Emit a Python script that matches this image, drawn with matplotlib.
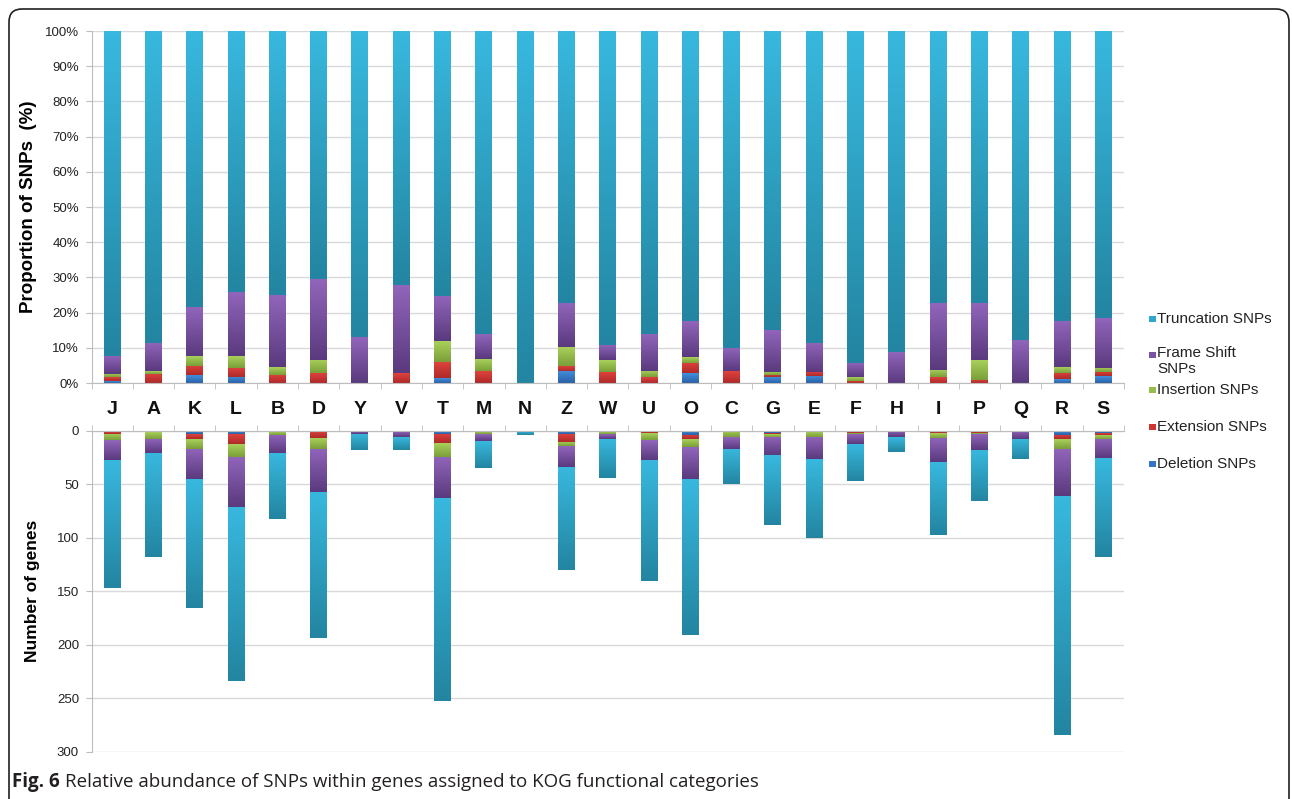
import numpy as np
import matplotlib
matplotlib.use("Agg")
import matplotlib.pyplot as plt
from matplotlib.colors import LinearSegmentedColormap
from matplotlib.patches import Rectangle, FancyBboxPatch
from matplotlib.transforms import IdentityTransform

plt.rcParams['font.family'] = ['Liberation Sans', 'DejaVu Sans']

categories = ["J", "A", "K", "L", "B", "D", "Y", "V", "T", "M", "N", "Z", "W",
              "U", "O", "C", "G", "E", "F", "H", "I", "P", "Q", "R", "S"]

series_names = ["Deletion SNPs", "Extension SNPs", "Insertion SNPs",
                "Frame Shift\nSNPs", "Truncation SNPs"]

# ---- Top panel: proportion of SNPs (%) ----
pct_deletion = [0.5, 0, 2.2, 1.8, 0, 0, 0, 0, 1.4, 0, 0, 3.5, 0,
                0, 2.7, 0, 1.6, 2.0, 0, 0, 0, 0, 0, 1.0, 1.9]
pct_extension = [1.1, 2.6, 2.7, 2.6, 2.4, 2.8, 0, 2.7, 4.5, 3.4, 0, 1.4, 3.1,
                 1.6, 3.0, 3.3, 0.6, 1.2, 0.6, 0, 1.7, 0.9, 0, 1.8, 1.3]
pct_insertion = [1.0, 0.8, 2.8, 3.3, 2.1, 3.8, 0, 0, 5.9, 3.4, 0, 5.2, 3.3,
                 1.8, 1.7, 0, 0.9, 0, 1.0, 0, 2.1, 5.5, 0, 1.7, 1.2]
pct_frameshift = [5.2, 8.0, 13.9, 18.2, 20.5, 22.9, 13.0, 25.1, 13.0, 7.0, 0, 12.6, 4.3,
                  10.6, 10.1, 6.6, 11.9, 8.3, 4.1, 8.7, 19.0, 16.3, 12.2, 13.1, 14.0]
pct_truncation = [92.2, 88.6, 78.4, 74.1, 75.0, 70.5, 87.0, 72.2, 75.2, 86.2, 100, 77.3, 89.3,
                  86.0, 82.5, 90.1, 85.0, 88.5, 94.3, 91.3, 77.2, 77.3, 87.8, 82.4, 81.6]

# ---- Bottom panel: number of genes ----
genes_deletion = [1, 0, 3.7, 3.7, 0, 0, 0, 0, 3.7, 0, 0, 3.7, 0,
                  0, 4.3, 0, 2.5, 1.2, 0, 0, 0, 0, 0, 4.3, 2.5]
genes_extension = [2, 1, 3.8, 9, 1.2, 6.8, 0, 0, 8.4, 1.2, 0, 6.9, 1,
                   2.5, 3.8, 0, 1.2, 0, 1.9, 0, 2.2, 1.9, 0, 3.8, 1.8]
genes_insertion = [6, 6.5, 9.3, 11.8, 3.1, 10, 0, 1.2, 12.4, 2.5, 0, 4, 2.1,
                   6.5, 7.4, 5.9, 2.2, 4.7, 1.8, 0, 4.6, 1.8, 0, 8.7, 3.2]
genes_frameshift = [18.5, 13.3, 28.5, 47.1, 16.9, 40.7, 2.8, 4.7, 38.9, 5.9, 0, 19.2, 4.4,
                    18.6, 29.8, 10.9, 17.1, 20.8, 9, 5.9, 23, 14.9, 7.5, 44.2, 18.6]
genes_truncation = [119.5, 97.2, 120.7, 162.4, 61.6, 136.5, 15.2, 12.1, 189.1, 25.1, 4, 96.8, 37.2,
                    112.4, 145.7, 33.2, 65, 73.6, 34.5, 13.8, 67.4, 47, 19.1, 223.6, 91.9]

# gradient colours (light/top, dark/bottom) and flat legend colours
grad_colors = [("#438fdc", "#2a60a8"),
               ("#de423d", "#ae2a29"),
               ("#a9d05a", "#7a9f3a"),
               ("#9165bb", "#5a3a7e"),
               ("#38b8de", "#2385a1")]
legend_colors = ["#3574c4", "#cf3431", "#95bf4a", "#7a52a6", "#30a8cc"]

W, H = 1292, 799
fig = plt.figure(figsize=(W / 100, H / 100), dpi=100)


def fx(px):
    return px / W


def fy(py):
    return 1 - py / H


ax1 = fig.add_axes([fx(91.5), fy(383), fx(1124) - fx(91.5), fy(31) - fy(383)])
ax2 = fig.add_axes([fx(91.5), fy(752), fx(1124) - fx(91.5), fy(430.5) - fy(752)])

x = np.arange(len(categories))
bw = 0.41
GRID = "#d9d9d9"
SPINE = "#bdbdbd"


def stacked(ax, series, inverted):
    bottoms = np.zeros(len(categories))
    for vals, (c_top, c_bot), c_flat in zip(series, grad_colors, legend_colors):
        vals = np.asarray(vals, dtype=float)
        bars = ax.bar(x, vals, width=bw, bottom=bottoms, color=c_flat,
                      linewidth=0, zorder=2)
        for b in bars:
            h = b.get_height()
            if h <= 0:
                continue
            x0, y0, w = b.get_x(), b.get_y(), b.get_width()
            cols = [c_top, c_bot] if inverted else [c_bot, c_top]
            cmap = LinearSegmentedColormap.from_list("g", cols)
            img = ax.imshow(np.linspace(0, 1, 64).reshape(-1, 1), cmap=cmap,
                            extent=[x0, x0 + w, y0, y0 + h], origin="lower",
                            aspect="auto", zorder=2.5, interpolation="bilinear")
            img.set_clip_path(b)
        bottoms += vals


stacked(ax1, [pct_deletion, pct_extension, pct_insertion, pct_frameshift, pct_truncation], False)
stacked(ax2, [genes_deletion, genes_extension, genes_insertion, genes_frameshift, genes_truncation], True)

# ---- top axes styling ----
ax1.set_xlim(-0.5, len(categories) - 0.5)
ax1.set_ylim(0, 100)
ax1.set_yticks(np.arange(0, 101, 10))
ax1.set_yticklabels([f"{v}%" for v in range(0, 101, 10)], fontsize=9.5, color="#222222")
ax1.set_xticks(x)
ax1.set_xticklabels(categories, fontsize=14, fontweight="bold", color="#111111")
ax1.set_xticks(np.arange(-0.5, len(categories), 1), minor=True)
ax1.tick_params(axis="x", which="major", length=0, pad=13)
ax1.tick_params(axis="x", which="minor", length=4, color=SPINE, direction="out")
ax1.tick_params(axis="y", length=4, color=SPINE, pad=5)
ax1.grid(axis="y", color=GRID, linewidth=1, zorder=0)
ax1.set_axisbelow(True)
for s in ["top", "right"]:
    ax1.spines[s].set_visible(False)
for s in ["left", "bottom"]:
    ax1.spines[s].set_color(SPINE)
ax1.set_ylabel("Proportion of SNPs  (%)", fontsize=13.5, fontweight="bold")

# ---- bottom axes styling ----
ax2.set_xlim(-0.5, len(categories) - 0.5)
ax2.set_ylim(300, 0)
ax2.set_yticks(np.arange(0, 301, 50))
ax2.set_yticklabels([str(v) for v in range(0, 301, 50)], fontsize=9.5, color="#222222")
ax2.xaxis.tick_top()
ax2.set_xticks([])
ax2.set_xticks(np.arange(-0.5, len(categories), 1), minor=True)
ax2.tick_params(axis="x", which="minor", length=4, color=SPINE, direction="out", top=True, bottom=False)
ax2.tick_params(axis="y", length=4, color=SPINE, pad=5)
ax2.grid(axis="y", color=GRID, linewidth=1, zorder=0)
ax2.set_axisbelow(True)
for s in ["bottom", "right"]:
    ax2.spines[s].set_visible(False)
for s in ["left", "top"]:
    ax2.spines[s].set_color(SPINE)
ax2.set_ylabel("Number of genes", fontsize=12.5, fontweight="bold")

ax1.yaxis.set_label_coords((37 - 91.5) / (1124 - 91.5), 0.5)
ax2.yaxis.set_label_coords((40 - 91.5) / (1124 - 91.5), 0.5)

# ---- legend (manual, right side) ----
leg_rows = [(319, 4), (355, 3), (390, 2), (427, 1), (464, 0)]
for ypx, idx in leg_rows:
    label = series_names[idx]
    fig.add_artist(Rectangle((fx(1149), fy(ypx) - 3.2 / H), 6.5 / W, 6.5 / H,
                             transform=fig.transFigure, facecolor=legend_colors[idx],
                             edgecolor="none"))
    if "\n" in label:
        fig.text(fx(1157), fy(ypx - 8.5), label, fontsize=11, color="#222222",
                 va="top", ha="left", linespacing=1.1)
    else:
        fig.text(fx(1157), fy(ypx), label, fontsize=11, color="#222222",
                 va="center", ha="left")

# ---- frame ----
frame = FancyBboxPatch((9, -60), 1280, 790 + 60, boxstyle="round,pad=0,rounding_size=13",
                       transform=IdentityTransform(), facecolor="none",
                       edgecolor="#231f20", linewidth=1.2)
fig.add_artist(frame)

# ---- caption ----
cap_font = ["Open Sans", "DejaVu Sans"]
t1 = fig.text(fx(12), fy(782), "Fig. 6", fontsize=13.5, fontweight="bold",
              family=cap_font, va="center", ha="left", color="#231f20")
fig.canvas.draw()
bb = t1.get_window_extent(renderer=fig.canvas.get_renderer())
fig.text((bb.x1 + 5) / W, fy(782),
         "Relative abundance of SNPs within genes assigned to KOG functional categories",
         fontsize=13.5, family=cap_font, va="center", ha="left", color="#231f20")

fig.savefig("out.png", dpi=100)
